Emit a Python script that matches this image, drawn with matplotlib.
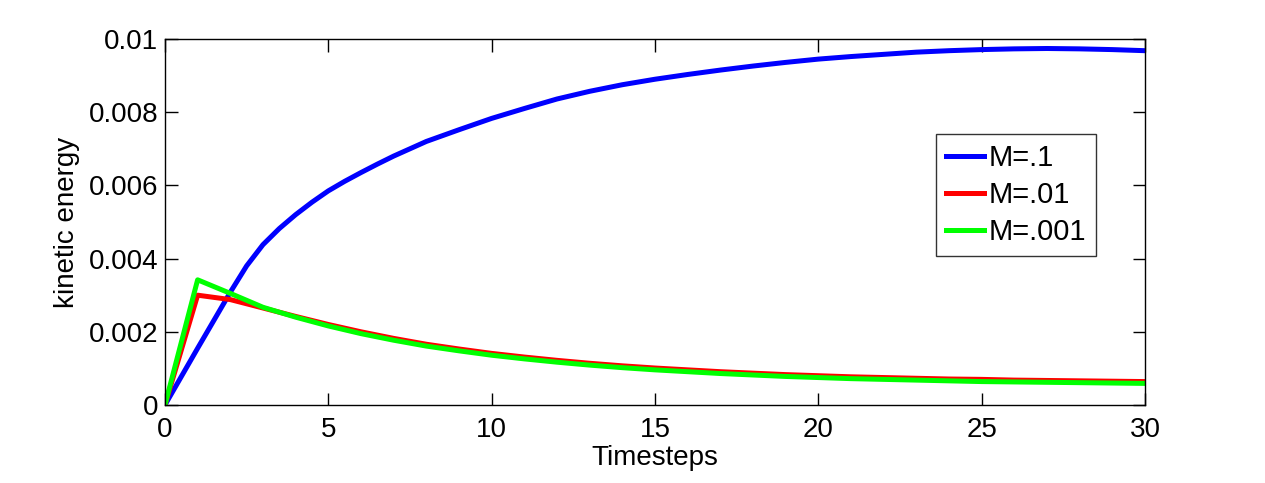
import matplotlib
matplotlib.use('Agg')
import matplotlib.pyplot as plt
import numpy as np

plt.rcParams['font.family'] = ['Liberation Sans', 'DejaVu Sans']

# timesteps 0..30
timesteps = np.arange(0, 31)

# M=.1 run, read at finer spacing where the curve bends (units of 1e-3)
t_m1 = [0, 1, 2, 2.5, 3, 3.5, 4, 4.5, 5, 5.5, 6, 6.5, 7, 7.5, 8, 9, 10,
        11, 12, 13, 14, 15, 16, 17, 18, 19, 20, 21, 22, 23, 24, 25, 26,
        27, 28, 29, 30]
ke_m1 = [0, 1.55, 3.08, 3.8, 4.38, 4.82, 5.2, 5.54, 5.85, 6.11, 6.35,
         6.58, 6.8, 7.0, 7.2, 7.52, 7.83, 8.1, 8.36, 8.57, 8.75, 8.9,
         9.03, 9.15, 9.26, 9.36, 9.45, 9.52, 9.58, 9.64, 9.68, 9.71,
         9.73, 9.74, 9.73, 9.71, 9.68]
ke_m01 = [0, 3.0, 2.88, 2.65, 2.42, 2.2, 2.0, 1.82, 1.66, 1.53, 1.41,
          1.31, 1.22, 1.14, 1.07, 1.01, 0.96, 0.91, 0.87, 0.83, 0.80,
          0.77, 0.75, 0.73, 0.71, 0.70, 0.68, 0.67, 0.66, 0.65, 0.64]
ke_m001 = [0, 3.42, 3.05, 2.67, 2.40, 2.16, 1.95, 1.77, 1.61, 1.48, 1.36,
           1.26, 1.17, 1.09, 1.02, 0.96, 0.91, 0.86, 0.82, 0.78, 0.75,
           0.72, 0.70, 0.68, 0.66, 0.64, 0.63, 0.62, 0.61, 0.60, 0.59]

labels = ['M=.1', 'M=.01', 'M=.001']
colors = ['#0000ff', '#ff0000', '#00ff00']

fig = plt.figure(figsize=(12.65, 4.83), dpi=100)
ax = fig.add_axes([0.1304, 0.1615, 0.7747, 0.7578])

series = [(t_m1, ke_m1), (timesteps, ke_m01), (timesteps, ke_m001)]
for (t, ke), lab, c in zip(series, labels, colors):
    ax.plot(t, np.array(ke) * 1e-3, color=c, linewidth=3.6, label=lab,
            solid_joinstyle='round')

ax.set_xlim(0, 30)
ax.set_ylim(0, 0.01)
ax.set_xticks([0, 5, 10, 15, 20, 25, 30])
ax.set_yticks([0, 0.002, 0.004, 0.006, 0.008, 0.01])
ax.set_yticklabels(['0', '0.002', '0.004', '0.006', '0.008', '0.01'])
ax.tick_params(direction='in', length=9, width=1, labelsize=20,
               top=True, right=True)
ax.tick_params(axis='x', pad=9)
ax.tick_params(axis='y', pad=5)
for s in ax.spines.values():
    s.set_linewidth(1)
ax.set_xlabel('Timesteps', fontsize=20, labelpad=1)
ax.set_ylabel('kinetic energy', fontsize=20, labelpad=6)

# legend box sits right of centre, a bit above the middle
leg = ax.legend(loc='upper left', bbox_to_anchor=(0.787, 0.74), fontsize=21,
                frameon=True, fancybox=False, handlelength=1.3,
                handletextpad=0.15, borderpad=0.35, labelspacing=0.3,
                borderaxespad=0)
leg.get_frame().set_edgecolor('black')
leg.get_frame().set_linewidth(1)

fig.savefig('out.png', dpi=100)
